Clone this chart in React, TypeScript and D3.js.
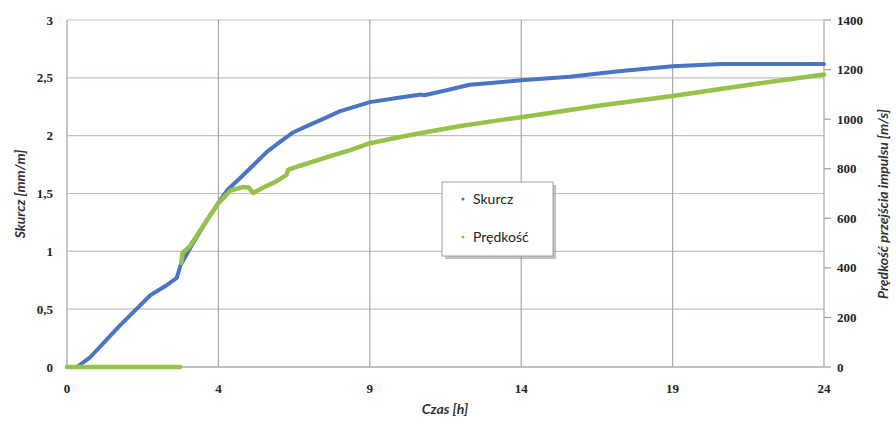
import React from "react";
import * as d3 from "d3";

// time axis is an Excel category axis: labels every 4/5 h at equal spacing
const czasTicks = [0, 4, 9, 14, 19, 24];
const skurczTicks = [0, 0.5, 1, 1.5, 2, 2.5, 3];
const predkoscTicks = [0, 200, 400, 600, 800, 1000, 1200, 1400];

const czasS = [0, 0.26, 0.6, 1.0, 1.4, 1.8, 2.2, 2.6, 2.9, 3.0, 3.26, 3.66, 4.0, 4.3, 4.7, 5.06, 5.6, 6.0, 6.48, 6.9, 7.5, 8.0, 9.0, 10.0, 10.7, 10.8, 11.5, 12.3, 13.2, 14.0, 15.6, 17.3, 19.0, 20.6, 21.5, 22.5, 24];
const skurcz = [0, 0, 0.08, 0.22, 0.36, 0.49, 0.62, 0.7, 0.77, 0.88, 1.03, 1.25, 1.42, 1.53, 1.63, 1.72, 1.86, 1.94, 2.03, 2.08, 2.15, 2.21, 2.29, 2.33, 2.355, 2.35, 2.39, 2.44, 2.46, 2.48, 2.51, 2.56, 2.6, 2.62, 2.62, 2.62, 2.62];

const czasP = [0, 2.99, 3.0, 3.02, 3.05, 3.26, 3.7, 4.0, 4.4, 4.8, 5.0, 5.15, 5.5, 5.9, 6.25, 6.3, 6.7, 7.8, 8.36, 9.0, 10.0, 10.7, 12.0, 13.3, 14.0, 16.6, 19.0, 21.6, 24];
const predkosc = [0, 0, null, 420, 460, 490, 593, 661, 712, 726, 724, 702, 725, 748, 775, 795, 812, 855, 875, 903, 928, 944, 972, 996, 1008, 1055, 1093, 1140, 1180];

const W = 896;
const H = 421;
const m = { top: 20, right: 72, bottom: 54, left: 67 };

const blue = "#4a74c4";
const green = "#96c24a";

export default function App() {
  const x = d3
    .scaleLinear()
    .domain(czasTicks)
    .range(czasTicks.map((d, i) => m.left + (i * (W - m.left - m.right)) / (czasTicks.length - 1)));
  const yL = d3.scaleLinear().domain([0, 3]).range([H - m.bottom, m.top]);
  const yR = d3.scaleLinear().domain([0, 1400]).range([H - m.bottom, m.top]);

  const lineS = d3
    .line<number>()
    .x((d, i) => x(czasS[i]))
    .y((d) => yL(d));
  const lineP = d3
    .line<number | null>()
    .defined((d) => d !== null)
    .x((d, i) => x(czasP[i]))
    .y((d) => yR(d as number));

  const x0 = m.left;
  const x1 = W - m.right;
  const y0 = H - m.bottom;
  const tickFont = "'Liberation Serif', serif";
  const titleFont = "Lato, 'Open Sans', sans-serif";

  return (
    <div style={{ position: "absolute", left: 0, top: 0 }}>
      <svg width={W} height={H} style={{ display: "block", background: "#fff" }}>
        {/* horizontal gridlines */}
        {skurczTicks.map((t) => (
          <line key={"h" + t} x1={x0} x2={x1} y1={yL(t)} y2={yL(t)} stroke="#cbbdb9" strokeWidth={1.2} />
        ))}
        {/* vertical gridlines */}
        {czasTicks.slice(1).map((t) => (
          <line key={"v" + t} x1={x(t)} x2={x(t)} y1={m.top} y2={y0} stroke="#a8a8a8" strokeWidth={1.2} />
        ))}
        <line x1={x0} x2={x0} y1={m.top} y2={y0} stroke="#a0a0a0" strokeWidth={1.2} />
        <line x1={x0} x2={x1} y1={y0} y2={y0} stroke="#a0a0a0" strokeWidth={1.2} />

        {/* left ticks */}
        {skurczTicks.map((t) => (
          <text key={"l" + t} x={53} y={yL(t)} dy="0.35em" textAnchor="end" fontFamily={tickFont} fontWeight="bold" fontSize={13} fill="#222">
            {String(t).replace(".", ",")}
          </text>
        ))}
        {/* right ticks */}
        {predkoscTicks.map((t) => (
          <g key={"r" + t}>
            <line x1={x1} x2={x1 + 7} y1={yR(t)} y2={yR(t)} stroke="#a0a0a0" strokeWidth={1.2} />
            <text x={837} y={yR(t)} dy="0.35em" textAnchor="start" fontFamily={tickFont} fontWeight="bold" fontSize={13} fill="#222">
              {t}
            </text>
          </g>
        ))}
        {/* bottom ticks */}
        {czasTicks.map((t) => (
          <text key={"b" + t} x={x(t)} y={388} dy="0.35em" textAnchor="middle" fontFamily={tickFont} fontWeight="bold" fontSize={13} fill="#222">
            {t}
          </text>
        ))}

        {/* series */}
        <path d={lineS(skurcz) ?? ""} fill="none" stroke={blue} strokeWidth={4} strokeLinejoin="round" strokeLinecap="round" />
        <path d={lineP(predkosc) ?? ""} fill="none" stroke={green} strokeWidth={4.5} strokeLinejoin="round" strokeLinecap="round" />

        {/* axis titles */}
        <text transform="translate(25,194) rotate(-90)" textAnchor="middle" fontFamily={titleFont} fontStyle="italic" fontWeight="bold" fontSize={14} fill="#333">
          Skurcz [mm/m]
        </text>
        <text x={445} y={414} textAnchor="middle" fontFamily={titleFont} fontStyle="italic" fontWeight="bold" fontSize={14} fill="#333">
          Czas [h]
        </text>
        <text transform="translate(888,204) rotate(-90)" textAnchor="middle" fontFamily={titleFont} fontStyle="italic" fontWeight="bold" fontSize={14} fill="#333">
          Prędkość przejścia impulsu [m/s]
        </text>

        {/* legend */}
        <rect x={445} y={185} width={111} height={74} fill="#9a9a9a" opacity={0.6} />
        <rect x={442} y={182} width={111} height={74} fill="#fff" stroke="#a0a0a0" strokeWidth={1} />
        <circle cx={463} cy={199} r={1.5} fill={blue} />
        <text x={473} y={199} dy="0.35em" fontFamily={titleFont} fontSize={14} fill="#222">
          Skurcz
        </text>
        <circle cx={463} cy={237} r={1.5} fill={green} />
        <text x={473} y={237} dy="0.35em" fontFamily={titleFont} fontSize={14} fill="#222">
          Prędkość
        </text>
      </svg>
    </div>
  );
}
